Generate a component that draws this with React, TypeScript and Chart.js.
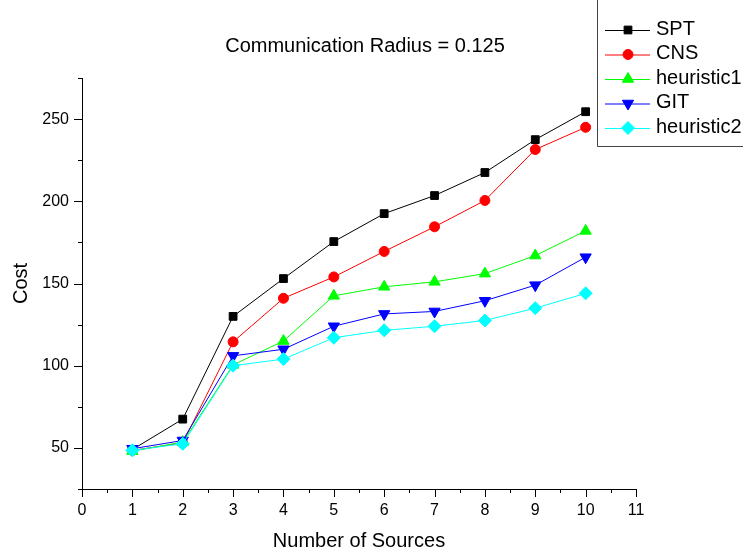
import React, { useEffect, useRef } from "react";
import { Chart, registerables } from "chart.js";

Chart.register(...registerables);

const chartTitle = "Communication Radius = 0.125";
const xTitle = "Number of Sources";
const yTitle = "Cost";
const sources = [1, 2, 3, 4, 5, 6, 7, 8, 9, 10];
const seriesNames = ["SPT", "CNS", "heuristic1", "GIT", "heuristic2"];
const spt = [49, 67.5, 130, 153, 175.5, 192.5, 203.5, 217.5, 237.5, 254.5];
const cns = [48.5, 53, 114.5, 141, 154, 169.5, 184.5, 200.5, 231.5, 245];
const heuristic1 = [48, 53.5, 100.5, 115, 142.5, 148, 151, 156, 167, 182];
const git = [49.5, 54.5, 106, 110, 124, 131.5, 133, 139.5, 149, 166];
const heuristic2 = [48.5, 52.5, 100, 104, 117, 121.5, 124, 127.5, 135, 144];
const xTickRange = [0, 11];
const yTickRange = [25, 275];

const FONT = "'Liberation Sans', Arial, sans-serif";

const styles = [
  { color: "#000000", pointStyle: "rect", radius: 5.5, rotation: 0 },
  { color: "#FF0000", pointStyle: "circle", radius: 5, rotation: 0 },
  { color: "#00FF00", pointStyle: "triangle", radius: 6.5, rotation: 0 },
  { color: "#0000FF", pointStyle: "triangle", radius: 6.5, rotation: 180 },
  { color: "#00FFFF", pointStyle: "rectRot", radius: 6.5, rotation: 0 },
];

function drawMarker(ctx: CanvasRenderingContext2D, kind: number, x: number, y: number) {
  const s = styles[kind];
  const r = s.radius;
  ctx.save();
  ctx.fillStyle = s.color;
  ctx.strokeStyle = s.color;
  ctx.lineWidth = 1;
  ctx.beginPath();
  if (s.pointStyle === "rect") {
    const h = r * Math.SQRT1_2;
    ctx.rect(x - h, y - h, 2 * h, 2 * h);
  } else if (s.pointStyle === "circle") {
    ctx.arc(x, y, r, 0, Math.PI * 2);
  } else if (s.pointStyle === "triangle") {
    const dir = s.rotation === 180 ? -1 : 1;
    const half = (r * Math.sqrt(3)) / 2;
    ctx.moveTo(x, y - dir * r);
    ctx.lineTo(x - half, y + dir * r / 2);
    ctx.lineTo(x + half, y + dir * r / 2);
    ctx.closePath();
  } else {
    ctx.moveTo(x, y - r);
    ctx.lineTo(x + r, y);
    ctx.lineTo(x, y + r);
    ctx.lineTo(x - r, y);
    ctx.closePath();
  }
  ctx.fill();
  ctx.stroke();
  ctx.restore();
}

const decorPlugin = {
  id: "decor",
  afterDraw(chart: any) {
    const ctx: CanvasRenderingContext2D = chart.ctx;
    const xs = chart.scales.x;
    const ys = chart.scales.y;
    ctx.save();
    ctx.strokeStyle = "#000";
    ctx.lineWidth = 1;
    // tick marks
    xs.ticks.forEach((t: any) => {
      const px = Math.round(xs.getPixelForValue(t.value)) + 0.5;
      const len = Number.isInteger(t.value) ? 8 : 4;
      ctx.beginPath();
      ctx.moveTo(px, xs.top);
      ctx.lineTo(px, xs.top + len);
      ctx.stroke();
    });
    ys.ticks.forEach((t: any) => {
      const py = Math.round(ys.getPixelForValue(t.value)) + 0.5;
      const len = t.value % 50 === 0 ? 8 : 4;
      ctx.beginPath();
      ctx.moveTo(ys.right, py);
      ctx.lineTo(ys.right - len, py);
      ctx.stroke();
    });
    // chart title
    ctx.fillStyle = "#000";
    ctx.font = `20px ${FONT}`;
    ctx.textAlign = "center";
    ctx.textBaseline = "middle";
    ctx.fillText(chartTitle, 365, 46);
    // legend
    ctx.strokeStyle = "#444";
    ctx.beginPath();
    ctx.moveTo(597.5, 0);
    ctx.lineTo(597.5, 146.5);
    ctx.lineTo(743, 146.5);
    ctx.stroke();
    const rows = [30, 54.5, 79, 103.5, 128];
    ctx.textAlign = "left";
    ctx.font = `20px ${FONT}`;
    seriesNames.forEach((name, i) => {
      const y = rows[i];
      ctx.strokeStyle = styles[i].color;
      ctx.beginPath();
      ctx.moveTo(605, y + 0.5);
      ctx.lineTo(650, y + 0.5);
      ctx.stroke();
      drawMarker(ctx, i, 628, y);
      ctx.fillStyle = "#000";
      ctx.fillText(name, 656, y - 1);
    });
    ctx.restore();
  },
};

export default function App() {
  const ref = useRef<HTMLCanvasElement | null>(null);
  useEffect(() => {
    if (!ref.current) return;
    const seriesData = [spt, cns, heuristic1, git, heuristic2];
    const chart = new Chart(ref.current, {
      type: "line",
      data: {
        datasets: seriesData.map((vals, i) => ({
          label: seriesNames[i],
          data: vals.map((v, j) => ({ x: sources[j], y: v })),
          borderColor: styles[i].color,
          backgroundColor: styles[i].color,
          borderWidth: 1,
          pointStyle: styles[i].pointStyle as any,
          pointRadius: styles[i].radius,
          pointRotation: styles[i].rotation,
          pointBorderWidth: 1,
          tension: 0,
          order: 5 - i,
          clip: false as any,
        })),
      },
      options: {
        animation: false,
        responsive: false,
        layout: { padding: { top: 78, right: 107, left: 0, bottom: 0 } },
        plugins: { legend: { display: false }, tooltip: { enabled: false }, title: { display: false } },
        scales: {
          x: {
            type: "linear",
            min: xTickRange[0],
            max: xTickRange[1],
            afterFit: (s: any) => { s.height = 67; },
            grid: { display: true, drawOnChartArea: false, drawTicks: false },
            border: { display: true, color: "#000", width: 1 },
            ticks: {
              stepSize: 0.5,
              autoSkip: false,
              maxRotation: 0,
              padding: 12,
              color: "#000",
              font: { family: FONT, size: 16 },
              callback: (v: any) => (Number.isInteger(v) ? String(v) : ""),
            },
            title: { display: true, text: xTitle, color: "#000", font: { family: FONT, size: 20 }, padding: { top: 0, bottom: 3 } },
          },
          y: {
            type: "linear",
            min: yTickRange[0],
            max: yTickRange[1],
            afterFit: (s: any) => { s.width = 82; },
            grid: { display: true, drawOnChartArea: false, drawTicks: false },
            border: { display: true, color: "#000", width: 1 },
            ticks: {
              stepSize: 25,
              autoSkip: false,
              padding: 13,
              color: "#000",
              font: { family: FONT, size: 16 },
              callback: (v: any) => (v % 50 === 0 ? String(v) : ""),
            },
            title: { display: true, text: yTitle, color: "#000", font: { family: FONT, size: 20 }, padding: { top: 9, bottom: 0 } },
          },
        },
      },
      plugins: [decorPlugin],
    });
    return () => chart.destroy();
  }, []);
  return (
    <div style={{ position: "fixed", left: 0, top: 0, width: 743, height: 556, background: "#fff" }}>
      <canvas ref={ref} width={743} height={556} style={{ display: "block" }} />
    </div>
  );
}
